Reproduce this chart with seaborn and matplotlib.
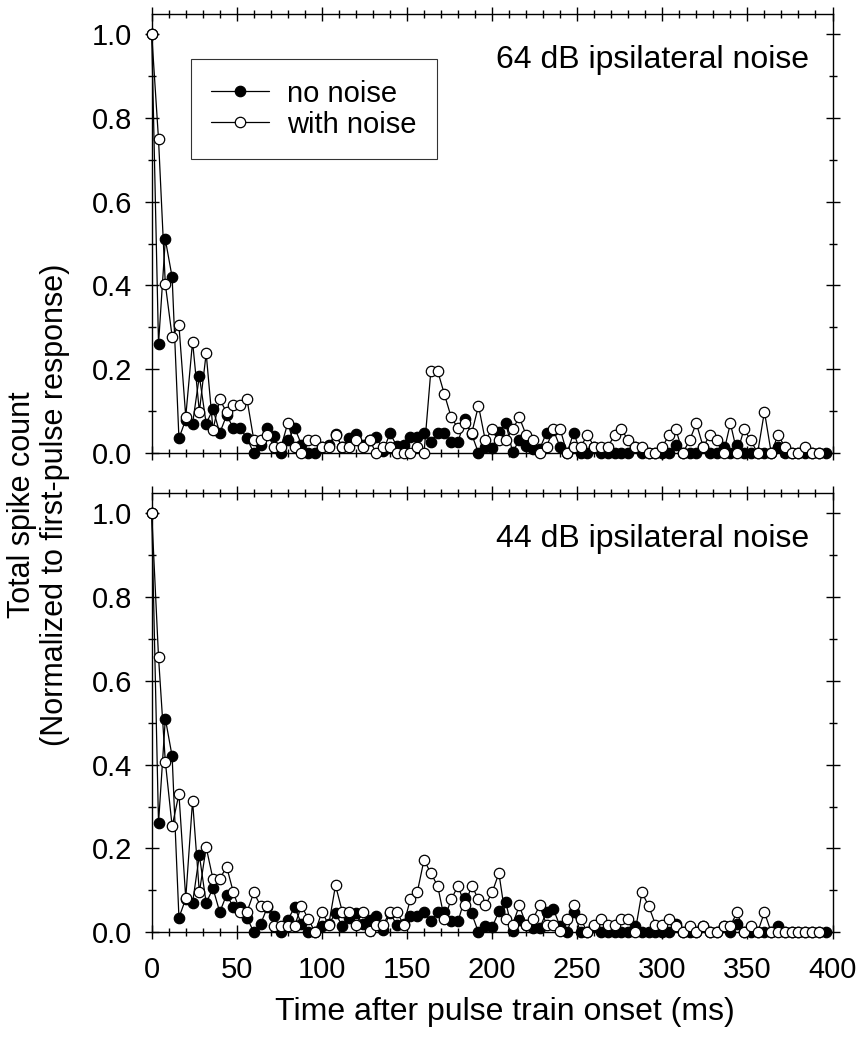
import numpy as np
import pandas as pd
import matplotlib
matplotlib.use("Agg")
import matplotlib.pyplot as plt
import seaborn as sns
from matplotlib.ticker import MultipleLocator

# time axis: one point every 4 ms
time_no_noise = np.arange(0, 400, 4)      # 0 .. 396
time_noise = np.arange(0, 396, 4)         # 0 .. 392

# control (no noise) response, same in both panels
no_noise = [
    1.0, 0.26, 0.51, 0.42, 0.035, 0.08, 0.07, 0.184, 0.07, 0.105,
    0.048, 0.09, 0.06, 0.06, 0.035, 0.0, 0.02, 0.06, 0.04, 0.0,
    0.03, 0.06, 0.02, 0.0, 0.0, 0.015, 0.02, 0.045, 0.015, 0.035,
    0.045, 0.02, 0.03, 0.039, 0.005, 0.047, 0.017, 0.019, 0.038, 0.038,
    0.048, 0.026, 0.048, 0.048, 0.026, 0.026, 0.082, 0.045, 0.0, 0.014,
    0.012, 0.05, 0.072, 0.003, 0.03, 0.017, 0.01, 0.01, 0.049, 0.055,
    0.014, 0.0, 0.049, 0.0, 0.0, 0.015, 0.0, 0.0, 0.0, 0.0,
    0.0, 0.015, 0.0, 0.0, 0.0, 0.0, 0.0, 0.02, 0.0, 0.0,
    0.0, 0.015, 0.0, 0.0, 0.015, 0.0, 0.02, 0.0, 0.0, 0.0,
    0.0, 0.0, 0.015, 0.0, 0.0, 0.0, 0.0, 0.0, 0.0, 0.0,
]

# 64 dB ipsilateral noise
noise_64 = [
    1.0, 0.749, 0.403, 0.278, 0.305, 0.087, 0.266, 0.099, 0.238, 0.056,
    0.128, 0.097, 0.115, 0.115, 0.128, 0.031, 0.031, 0.043, 0.015, 0.015,
    0.072, 0.015, 0.0, 0.03, 0.03, 0.015, 0.015, 0.043, 0.015, 0.015,
    0.03, 0.015, 0.03, 0.0, 0.015, 0.015, 0.0, 0.0, 0.0, 0.015,
    0.0, 0.196, 0.196, 0.14, 0.085, 0.059, 0.071, 0.047, 0.113, 0.03,
    0.057, 0.03, 0.03, 0.057, 0.085, 0.043, 0.03, 0.0, 0.015, 0.057,
    0.057, 0.0, 0.015, 0.015, 0.043, 0.015, 0.015, 0.015, 0.043, 0.057,
    0.03, 0.015, 0.015, 0.0, 0.0, 0.015, 0.043, 0.057, 0.0, 0.03,
    0.071, 0.015, 0.043, 0.03, 0.0, 0.071, 0.0, 0.057, 0.03, 0.0,
    0.099, 0.0, 0.043, 0.015, 0.0, 0.0, 0.015, 0.0, 0.0,
]

# 44 dB ipsilateral noise
noise_44 = [
    1.0, 0.657, 0.407, 0.253, 0.33, 0.081, 0.314, 0.095, 0.203, 0.127,
    0.127, 0.157, 0.095, 0.049, 0.049, 0.095, 0.063, 0.063, 0.016, 0.016,
    0.016, 0.016, 0.063, 0.032, 0.0, 0.049, 0.018, 0.112, 0.049, 0.049,
    0.018, 0.049, 0.004, 0.018, 0.018, 0.049, 0.049, 0.018, 0.079, 0.095,
    0.173, 0.141, 0.111, 0.032, 0.079, 0.111, 0.065, 0.111, 0.079, 0.064,
    0.095, 0.141, 0.032, 0.018, 0.064, 0.018, 0.032, 0.064, 0.018, 0.018,
    0.004, 0.032, 0.064, 0.032, 0.0, 0.018, 0.032, 0.018, 0.018, 0.032,
    0.032, 0.0, 0.095, 0.063, 0.018, 0.018, 0.032, 0.016, 0.0, 0.016,
    0.0, 0.016, 0.0, 0.0, 0.016, 0.016, 0.048, 0.0, 0.016, 0.0,
    0.048, 0.0, 0.0, 0.0, 0.0, 0.0, 0.0, 0.0, 0.0,
]

panel_labels = ["64 dB ipsilateral noise", "44 dB ipsilateral noise"]

sns.set_style("ticks")
plt.rcParams['font.family'] = ['Liberation Sans', 'DejaVu Sans']
plt.rcParams['axes.linewidth'] = 1.0
plt.rcParams['text.color'] = 'black'
plt.rcParams['axes.labelcolor'] = 'black'
plt.rcParams['xtick.color'] = 'black'
plt.rcParams['ytick.color'] = 'black'

fig = plt.figure(figsize=(8.61, 10.41), dpi=100)
ax_top = fig.add_axes([0.1762, 0.5648, 0.7907, 0.4217])
ax_bot = fig.add_axes([0.1762, 0.1044, 0.7907, 0.4220])

df_ctrl = pd.DataFrame({'t': time_no_noise, 'v': no_noise})

for ax, noise, label in zip([ax_top, ax_bot], [noise_64, noise_44], panel_labels):
    df_noise = pd.DataFrame({'t': time_noise, 'v': noise})

    sns.lineplot(
        data=df_ctrl, x='t', y='v', ax=ax,
        estimator=None, sort=False,
        color='black', linewidth=0.9,
        marker='o', markersize=7.5,
        markerfacecolor='black', markeredgecolor='black', markeredgewidth=0.9,
        label='no noise', clip_on=False, zorder=3
    )
    sns.lineplot(
        data=df_noise, x='t', y='v', ax=ax,
        estimator=None, sort=False,
        color='black', linewidth=0.9,
        marker='o', markersize=7.5,
        markerfacecolor='white', markeredgecolor='black', markeredgewidth=0.9,
        label='with noise', clip_on=False, zorder=4
    )

    ax.set_xlim(0, 400)
    ax.set_ylim(0, 1.048)
    ax.xaxis.set_major_locator(MultipleLocator(50))
    ax.xaxis.set_minor_locator(MultipleLocator(10))
    ax.yaxis.set_major_locator(MultipleLocator(0.2))
    ax.yaxis.set_minor_locator(MultipleLocator(0.1))
    ax.yaxis.set_major_formatter(matplotlib.ticker.FormatStrFormatter('%.1f'))

    ax.tick_params(which='both', direction='inout', top=True, right=True,
                   colors='black', width=1.0, labelsize=21)
    ax.tick_params(which='major', length=10)
    ax.tick_params(which='minor', length=6)
    ax.tick_params(axis='y', pad=9)
    ax.tick_params(axis='x', pad=12)
    for s in ax.spines.values():
        s.set_color('black')

    ax.set_xlabel('')
    ax.set_ylabel('')
    ax.text(0.966, 0.895, label, transform=ax.transAxes,
            ha='right', va='center', fontsize=23)

ax_top.tick_params(axis='x', labelbottom=False)

leg = ax_top.legend(loc='upper left', bbox_to_anchor=(0.057, 0.897),
                    borderaxespad=0, fontsize=21, frameon=True, fancybox=False,
                    handlelength=2.0, handletextpad=0.6, labelspacing=0.1,
                    borderpad=0.7)
leg.get_frame().set_edgecolor('black')
leg.get_frame().set_linewidth(0.8)
ax_bot.get_legend().remove()

ax_bot.set_xlabel('Time after pulse train onset (ms)', fontsize=23)
ax_bot.xaxis.set_label_coords(0.519, -0.148)
fig.text(0.0445, 0.515, 'Total spike count\n(Normalized to first-pulse response)',
         rotation=90, ha='center', va='center', fontsize=22, linespacing=1.15)

fig.savefig('out.png', dpi=100)
